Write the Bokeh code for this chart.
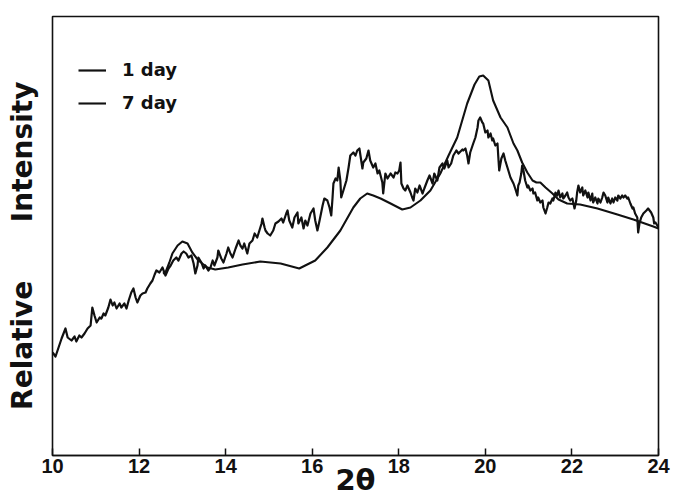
from bokeh.embed import file_html
from bokeh.models import Legend, LegendItem, FixedTicker, LinearAxis, Range1d
from bokeh.plotting import figure
from bokeh.resources import INLINE

# Powder X-ray diffraction traces (relative intensity, arbitrary units) vs 2-theta
theta_1day = [
    10.00, 10.02, 10.07, 10.14, 10.21, 10.30, 10.35, 10.44, 10.51, 10.55, 10.62, 10.67, 10.74,
    10.81, 10.88, 10.92, 10.97, 11.02, 11.09, 11.13, 11.18, 11.22, 11.29, 11.34, 11.39, 11.43,
    11.48, 11.55, 11.59, 11.66, 11.71, 11.76, 11.82, 11.87, 11.92, 11.96, 12.03, 12.08, 12.15,
    12.19, 12.26, 12.31, 12.36, 12.40, 12.47,
    12.54, 12.61, 12.68, 12.73, 12.79, 12.86, 12.91, 12.98, 13.03, 13.09, 13.14, 13.21, 13.26,
    13.30, 13.35, 13.37, 13.44, 13.49, 13.53, 13.60, 13.65, 13.70, 13.74, 13.81, 13.83, 13.90,
    13.95, 14.02, 14.06, 14.11, 14.16, 14.23, 14.30, 14.34, 14.39, 14.43, 14.50, 14.55, 14.62,
    14.67, 14.73, 14.78, 14.83, 14.85, 14.90,
    14.92, 14.97, 15.03, 15.10, 15.15, 15.22, 15.29, 15.33, 15.40, 15.43, 15.47, 15.54, 15.59,
    15.66, 15.68, 15.75, 15.80, 15.84, 15.89, 15.96, 16.03, 16.07, 16.12, 16.17, 16.24, 16.28,
    16.35, 16.40, 16.44, 16.47, 16.49, 16.54, 16.58, 16.61, 16.65, 16.67, 16.72, 16.79, 16.84,
    16.88, 16.95, 17.00, 17.04, 17.09, 17.16, 17.18, 17.25, 17.30,
    17.34, 17.41, 17.46, 17.51, 17.55, 17.62, 17.64, 17.69, 17.74, 17.81, 17.88, 17.92, 17.97,
    18.01, 18.04, 18.06, 18.11, 18.15, 18.20, 18.27, 18.31, 18.34, 18.38, 18.43, 18.48, 18.55,
    18.59, 18.66, 18.71, 18.78, 18.82, 18.89, 18.94, 19.01, 19.05, 19.12, 19.15, 19.21, 19.26,
    19.33, 19.38, 19.47,
    19.49, 19.54, 19.58, 19.61, 19.65, 19.72, 19.77, 19.82, 19.84, 19.88, 19.93, 19.95, 20.00,
    20.05, 20.07, 20.12, 20.16, 20.18, 20.23, 20.28, 20.30, 20.32, 20.37, 20.42, 20.46, 20.51,
    20.58, 20.65, 20.69, 20.74, 20.76, 20.79, 20.83, 20.85, 20.88, 20.92, 20.97, 20.99, 21.04,
    21.09, 21.11, 21.15, 21.20, 21.22, 21.27, 21.32, 21.34, 21.39, 21.43, 21.46, 21.50, 21.55,
    21.57,
    21.62, 21.66, 21.69, 21.73, 21.78, 21.80, 21.85, 21.89, 21.92, 21.96, 22.01, 22.03, 22.06,
    22.10, 22.12, 22.15, 22.19, 22.24, 22.26, 22.31, 22.36, 22.38, 22.43, 22.47, 22.49, 22.54,
    22.59, 22.61, 22.66, 22.70, 22.73, 22.77, 22.82, 22.84, 22.89, 22.93, 22.96, 23.00, 23.05,
    23.07, 23.12, 23.16, 23.19, 23.23, 23.28, 23.30, 23.35, 23.40, 23.42, 23.46, 23.51, 23.53,
    23.56, 23.60, 23.65, 23.72, 23.76, 23.83, 23.88, 23.90, 23.93, 24.00,
]
intensity_1day = [
    103, 102, 99, 108, 117, 127, 118, 115, 119, 114, 120, 118, 122,
    127, 130, 148, 140, 133, 138, 137, 142, 140, 148, 156, 150, 153,
    147, 152, 148, 152, 147, 155, 163, 167, 158, 153, 160, 162, 163,
    167, 172, 175, 181, 185, 183,
    188, 180, 187, 190, 195, 198, 195, 202, 204, 202, 198, 200, 192,
    182, 190, 198, 193, 187, 190, 185, 188, 195, 190, 198, 205, 197,
    193, 202, 208, 202, 198, 207, 215, 210, 207, 212, 202, 212, 215,
    222, 218, 225, 232, 237, 228,
    225, 222, 220, 225, 232, 234, 237, 233, 242, 245, 235, 228, 238,
    243, 232, 238, 227, 235, 230, 242, 247, 235, 225, 235, 250, 257,
    255, 248, 240, 258, 272, 277, 275, 288, 275, 258, 265, 275, 288,
    300, 303, 300, 305, 307, 287, 293, 297, 305,
    295, 288, 292, 282, 285, 273, 262, 282, 277, 282, 278, 283, 282,
    285, 293, 272, 267, 265, 270, 263, 258, 255, 267, 263, 270, 262,
    267, 275, 280, 272, 282, 275, 288, 292, 287, 295, 288, 292, 300,
    305, 302, 306,
    305, 307, 300, 292, 303, 312, 318, 328, 335, 338, 333, 332, 323,
    325, 318, 322, 315, 317, 310, 312, 298, 285, 297, 302, 295, 288,
    278, 272, 267, 260, 270, 273, 282, 290, 285, 275, 268, 270, 265,
    267, 262, 263, 255, 258, 253, 255, 248, 242, 248, 253, 252, 257,
    255,
    263, 260, 265, 258, 262, 257, 260, 263, 258, 255, 257, 253, 247,
    255, 263, 270, 263, 268, 260, 265, 258, 263, 255, 262, 253, 258,
    252, 257, 253, 258, 263, 260, 253, 258, 252, 257, 253, 258, 255,
    260, 257, 260, 258, 260, 257, 258, 252, 247, 248, 242, 238, 223,
    232, 238, 242, 245, 247, 243, 238, 232, 233, 228,
]

theta_7day = [
    12.55, 12.61, 12.70, 12.77, 12.89, 13.00, 13.12, 13.23, 13.37, 13.58, 13.76, 14.06, 14.39,
    14.80, 15.27, 15.70, 16.07, 16.35, 16.65, 16.95, 17.11, 17.27, 17.41, 17.58, 17.81, 18.08,
    18.27, 18.50, 18.73, 18.96, 19.15, 19.35, 19.58, 19.75, 19.86, 19.95, 20.07, 20.18, 20.35,
    20.51, 20.65, 20.74, 20.85, 20.97, 21.09, 21.18, 21.27, 21.39, 21.55, 21.69, 21.89, 22.19,
    22.59, 23.05, 23.42, 23.88, 24.00,
]
intensity_7day = [
    182, 183, 193, 202, 210, 214, 212, 203, 195, 188, 186, 188, 191,
    194, 192, 187, 195, 208, 225, 248, 257, 262, 260, 257, 252, 246,
    248, 255, 265, 282, 300, 318, 352, 371, 379, 380, 375, 355, 338,
    328, 312, 305, 293, 283, 275, 273, 273, 268, 262, 256, 252, 251,
    247, 241, 236, 229, 227,
]

theta_ticks = [10, 12, 14, 16, 18, 20, 22, 24]
series_labels = ["1 day", "7 day"]
x_title = "2θ"
# non-breaking spaces keep the wide gap between the two words of the title
y_title = "Relative" + "\u00a0" * 6 + "Intensity" + "\u00a0" * 2

INK = "#111111"

p = figure(
    width=674, height=502,
    output_backend="svg", toolbar_location=None,
    x_range=Range1d(10, 24), y_range=Range1d(0, 439),
    y_axis_location=None,
    min_border_left=52, min_border_right=16, min_border_top=16, min_border_bottom=47,
)
p.background_fill_color = "white"
p.border_fill_color = "white"
p.outline_line_color = INK
p.outline_line_width = 1.6
p.xgrid.visible = False
p.ygrid.visible = False

ax = p.xaxis[0]
ax.ticker = FixedTicker(ticks=theta_ticks)
ax.axis_line_color = INK
ax.axis_line_width = 1.6
ax.major_tick_in = 7
ax.major_tick_out = 0
ax.major_tick_line_color = INK
ax.major_tick_line_width = 1.5
ax.minor_tick_line_color = None
ax.major_label_standoff = 3
ax.major_label_text_font = "Liberation Sans"
ax.major_label_text_font_size = "20px"
ax.major_label_text_font_style = "bold"
ax.major_label_text_color = INK
ax.axis_label = x_title
ax.axis_label_standoff = -13
ax.axis_label_text_font = "DejaVu Sans"
ax.axis_label_text_font_size = "29px"
ax.axis_label_text_font_style = "bold"
ax.axis_label_text_color = INK

# left axis carries only the title; the frame outline draws the border
yax = LinearAxis(ticker=FixedTicker(ticks=[]))
yax.axis_line_color = None
yax.major_tick_line_color = None
yax.minor_tick_line_color = None
yax.axis_label = y_title
yax.axis_label_standoff = 14
yax.axis_label_text_font = "DejaVu Sans"
yax.axis_label_text_font_size = "28px"
yax.axis_label_text_font_style = "bold"
yax.axis_label_text_color = INK
p.add_layout(yax, "left")

r_1day = p.line(theta_1day, intensity_1day, line_color=INK, line_width=2.2, line_join="round")
r_7day = p.line(theta_7day, intensity_7day, line_color=INK, line_width=2.1, line_join="round")

legend = Legend(
    items=[LegendItem(label=series_labels[0], renderers=[r_1day]),
           LegendItem(label=series_labels[1], renderers=[r_7day])],
    location=(26, 342), padding=0, margin=0, spacing=12,
    glyph_width=28, glyph_height=20, label_height=20, label_standoff=16,
    border_line_color=None, background_fill_alpha=0,
    label_text_font="DejaVu Sans", label_text_font_size="18px",
    label_text_font_style="bold", label_text_color=INK,
)
p.add_layout(legend)

open("out.html", "w").write(file_html(p, INLINE))
